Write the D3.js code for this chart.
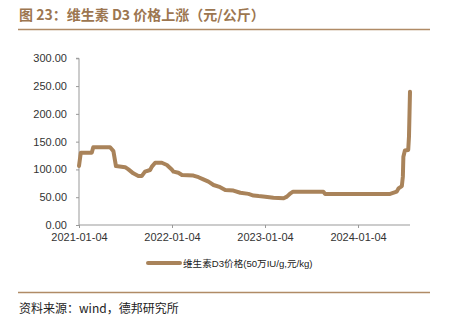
<!DOCTYPE html>
<html>
<head>
<meta charset="utf-8">
<script src="https://cdn.jsdelivr.net/npm/d3@7"></script>
<style>
  body { margin: 0; background: #fff; }
  svg { display: block; }
</style>
</head>
<body>
<svg id="chart" width="449" height="328"></svg>
<script>
// Vitamin D3 price series (yuan/kg), read at turning points
const dates = [
  "2021-01-04","2021-01-11","2021-02-23","2021-03-01","2021-05-06","2021-05-19","2021-05-29",
  "2021-07-04","2021-07-17","2021-08-05","2021-08-25","2021-09-07","2021-09-20","2021-10-10",
  "2021-10-17","2021-10-30","2021-11-25","2021-12-15","2022-01-03","2022-01-10","2022-01-29",
  "2022-02-12","2022-03-29","2022-04-18","2022-05-07","2022-05-27","2022-06-16","2022-07-12",
  "2022-08-01","2022-09-02","2022-09-29","2022-10-31","2022-11-20","2022-12-10","2023-01-05",
  "2023-02-06","2023-03-18","2023-03-31","2023-04-14","2023-04-24","2023-08-21","2023-08-28",
  "2024-05-09","2024-06-04","2024-06-11","2024-06-24","2024-06-28","2024-06-30","2024-07-06",
  "2024-07-19","2024-07-22","2024-07-26"
];
const prices = [
  106,130,130,140,140,133,106,
  104,100,93,88,88,96,99,
  105,112,112,108,100,96,94,
  90,89,86,82,78,72,68,
  63,62,58,56,53,52,51,
  49,48,51,57,60,60,56,
  56,60,66,70,87,123,134,
  135,159,240
];
const yTicks = [0, 50, 100, 150, 200, 250, 300];
const xTickDates = ["2021-01-04","2022-01-04","2023-01-04","2024-01-04"];
const seriesName = "维生素D3价格(50万IU/g,元/kg)";
const titleText = "图 23：维生素 D3 价格上涨（元/公斤）";
const sourceText = "资料来源：wind，德邦研究所";

const parse = d3.utcParse("%Y-%m-%d");
const data = dates.map((d, i) => ({ date: parse(d), value: prices[i] }));

const svg = d3.select("#chart");
const font = "'Liberation Sans', Arial, 'Noto Sans CJK SC', sans-serif";
const accent = "#a9835a";

const x = d3.scaleUtc()
  .domain([parse(dates[0]), parse(dates[dates.length - 1])])
  .range([79, 410]);
const y = d3.scaleLinear().domain([0, 300]).range([225, 58.3]);

// Title and rules
svg.append("text")
  .attr("x", 19).attr("y", 20)
  .attr("font-family", "'Noto Sans CJK SC', sans-serif")
  .attr("font-size", 14).attr("font-weight", "bold")
  .attr("fill", "#9c7650")
  .text(titleText);
svg.append("line").attr("x1", 18).attr("x2", 430).attr("y1", 29.5).attr("y2", 29.5)
  .attr("stroke", "#b08b66").attr("stroke-width", 1.5);
svg.append("line").attr("x1", 18).attr("x2", 430).attr("y1", 292.5).attr("y2", 292.5)
  .attr("stroke", "#b08b66").attr("stroke-width", 1.5);
svg.append("text")
  .attr("x", 19).attr("y", 313)
  .attr("font-family", "'Noto Sans CJK SC', sans-serif")
  .attr("font-size", 12).attr("fill", "#222")
  .text(sourceText);

// Axes
const yAxis = d3.axisLeft(y).tickValues(yTicks).tickSize(3).tickPadding(9)
  .tickFormat(d3.format(".2f"));
const gy = svg.append("g").attr("transform", "translate(79,0)").call(yAxis);
gy.select(".domain").attr("stroke", "#999").attr("d", "M-3," + y(300) + "H0V" + y(0));
gy.selectAll(".tick line").attr("stroke", "#999");
gy.selectAll(".tick text").attr("font-family", font).attr("font-size", 11).attr("fill", "#333");

const xAxis = d3.axisBottom(x).tickValues(xTickDates.map(parse)).tickSize(3).tickPadding(5)
  .tickFormat(d3.utcFormat("%Y-%m-%d"));
const gx = svg.append("g").attr("transform", "translate(0,225)").call(xAxis);
gx.select(".domain").attr("stroke", "#999").attr("d", "M79,0H410");
gx.selectAll(".tick line").attr("stroke", "#999");
gx.selectAll(".tick text").attr("font-family", font).attr("font-size", 11).attr("fill", "#333");

// Price line
const line = d3.line().x(d => x(d.date)).y(d => y(d.value));
svg.append("path").datum(data)
  .attr("d", line)
  .attr("fill", "none")
  .attr("stroke", accent)
  .attr("stroke-width", 4)
  .attr("stroke-linejoin", "round")
  .attr("stroke-linecap", "round");

// Legend
svg.append("line").attr("x1", 148).attr("x2", 180).attr("y1", 263).attr("y2", 263)
  .attr("stroke", accent).attr("stroke-width", 4).attr("stroke-linecap", "round");
svg.append("text")
  .attr("x", 183).attr("y", 267)
  .attr("font-family", font)
  .attr("font-size", 9.6).attr("fill", "#222")
  .text(seriesName);
</script>
</body>
</html>
